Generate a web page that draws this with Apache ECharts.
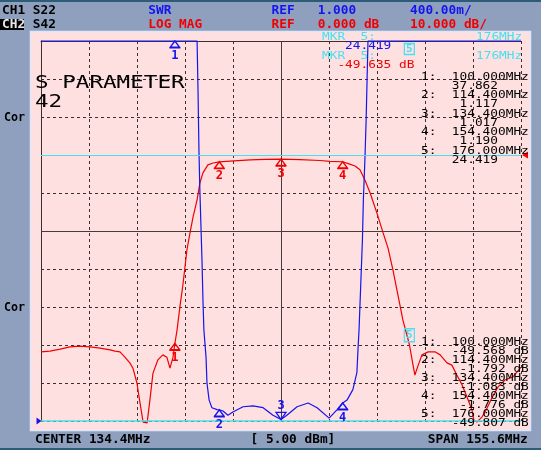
<!DOCTYPE html>
<html><head><meta charset="utf-8">
<script src="https://cdn.jsdelivr.net/npm/echarts@6/dist/echarts.min.js"></script>
<style>html,body{margin:0;padding:0;background:#8fa0bf;}#c{width:541px;height:450px;}</style>
</head><body><div id="c"></div>
<script>
// ---- sweep / scale settings ----
const startMHz = 56.6, stopMHz = 212.2;           // CENTER 134.4 MHz, SPAN 155.6 MHz
const dbMin = -70, dbMax = 30, dbPerDiv = 10;      // CH2 LOG MAG, REF 0 dB, 10 dB/div
const swrMin = 1, swrMax = 5;                      // CH1 SWR, REF 1.000, 400m/div

// ---- CH2 S42 LOG MAG trace (red) ----
const s42Freq = [56.6,59.5,62.8,66.0,69.2,72.5,75.7,79.0,80.6,82.2,83.8,85.4,86.4,87.7,88.7,89.7,91.0,91.9,92.9,94.5,96.1,97.4,98.4,99.4,100.0,100.7,101.7,102.6,103.9,104.9,105.9,107.2,108.1,109.1,110.7,112.4,114.4,117.9,124.4,129.2,134.4,140.5,147.0,150.3,154.4,156.7,158.4,160.0,161.6,163.3,165.5,167.5,169.1,170.7,172.3,173.9,176.0,176.9,177.8,178.8,180.1,182.1,184.3,186.0,188.2,189.8,191.4,193.1,194.7,196.3,196.9,197.9,199.6,201.2,202.8,204.7,207.0,209.6,212.2];
const s42Db   = [-51.8,-51.6,-51.1,-50.5,-50.3,-50.5,-50.8,-51.3,-51.6,-51.8,-53.2,-54.7,-56.1,-60.0,-65.3,-70.3,-70.5,-64.5,-57.4,-53.9,-52.6,-53.2,-56.1,-53.2,-49.6,-46.1,-39.5,-34.2,-25.0,-20.5,-16.3,-11.8,-7.4,-4.7,-2.6,-2.1,-1.8,-1.6,-1.3,-1.15,-1.08,-1.2,-1.45,-1.7,-1.78,-2.4,-2.9,-3.9,-6.6,-10.0,-15.3,-20.5,-24.5,-30.3,-36.8,-43.4,-49.8,-53.9,-57.9,-55.5,-52.6,-51.8,-51.8,-52.6,-54.7,-55.3,-57.9,-60.5,-63.7,-67.1,-69.7,-70.3,-68.9,-66.6,-63.9,-61.1,-59.2,-58.4,-55.8];

// ---- CH1 S22 SWR trace (blue); 5.0 = top of screen (off-scale values sit there) ----
const s22Freq = [56.6,107.2,107.5,107.8,108.1,108.5,108.8,109.1,109.4,110.1,110.4,111.1,112.0,113.7,114.4,115.6,117.2,118.8,122.1,125.3,128.6,131.8,134.4,136.3,139.6,143.2,146.1,150.0,152.6,154.4,155.8,157.7,159.0,159.4,159.7,160.3,160.8,161.1,161.6,162.0,162.3,162.6,212.2];
const s22Swr  = [5.0,5.0,4.48,3.85,3.43,3.00,2.68,2.27,1.96,1.67,1.40,1.22,1.14,1.12,1.117,1.105,1.06,1.095,1.15,1.16,1.14,1.06,1.017,1.06,1.15,1.19,1.14,1.03,1.12,1.19,1.22,1.33,1.51,1.78,1.96,2.48,2.91,3.33,3.75,4.17,4.59,5.0,5.0];

// ---- markers ----
const markerFreq = [100.0, 114.4, 134.4, 154.4, 176.0];
const ch1MarkerVal = [37.862, 1.117, 1.017, 1.190, 24.419];
const ch2MarkerVal = [-49.568, -1.792, -1.083, -1.776, -49.807];
const mkrActiveCh1 = '24.419', mkrActiveCh2 = '-49.635 dB', mkrActiveFreq = '176MHz';

// ---- header / footer texts ----
const hdr1 = ['CH1', 'S22', 'SWR', 'REF', '1.000', '400.00m/'];
const hdr2 = ['CH2', 'S42', 'LOG MAG', 'REF', '0.000 dB', '10.000 dB/'];
const footer = ['CENTER 134.4MHz', '[ 5.00 dBm]', 'SPAN 155.6MHz'];

const C = {bg:'#8fa0bf', pink:'#ffe0e0', grid:'#3a3030', blue:'#1414f0', red:'#f00000', cyan:'#48e0f0'};
const MONO = '"DejaVu Sans Mono", monospace';

function T(x, y, s, color, o) {
  o = o || {};
  const fs = o.fs || 10, pitch = o.pitch || 7.7, al = o.align || 'left';
  return {type:'text', x:x, y:y, z:100, silent:true, scaleX: pitch/(0.602*fs),
    style:{text:s, fill:color, font:(o.bold?'bold ':'')+fs+'px '+MONO,
      align:al, verticalAlign:'middle', textAlign:al, textVerticalAlign:'middle'}};
}

const G = [];
G.push({type:'rect', z:-10, silent:true, shape:{x:0,y:0,width:541,height:2}, style:{fill:'#2c5c78'}});
G.push({type:'rect', z:-10, silent:true, shape:{x:0,y:448,width:541,height:2}, style:{fill:'#2c5c78'}});
G.push({type:'rect', z:-10, silent:true, shape:{x:30.5,y:31.5,width:500,height:399}, style:{fill:C.pink, stroke:'#dfe6fa', lineWidth:1.5}});
// header
const hx = [2, 32.8, 148.3, 271.5, 317.7, 410];
const hc1 = ['#000','#000',C.blue,C.blue,C.blue,C.blue];
const hc2 = ['#e8e8e8','#000',C.red,C.red,C.red,C.red];
G.push({type:'rect', z:50, silent:true, shape:{x:0,y:19,width:24,height:11}, style:{fill:'#000'}});
hdr1.forEach((s,i)=>G.push(T(hx[i], 11, s, hc1[i], {fs:12, bold:true})));
hdr2.forEach((s,i)=>G.push(T(hx[i], 24.5, s, hc2[i], {fs:12, bold:true})));
// footer
const fx = [35, 250.6, 427.7];
footer.forEach((s,i)=>G.push(T(fx[i], 440, s, '#000', {fs:12, bold:true})));
// left labels
G.push(T(4, 118, 'Cor', '#000', {fs:12, bold:true, pitch:7}));
G.push(T(4, 308, 'Cor', '#000', {fs:12, bold:true, pitch:7}));
// title
G.push(T(35, 83, 'S PARAMETER', '#000', {fs:18, pitch:13.6}));
G.push(T(35, 102, '42', '#000', {fs:18, pitch:13.6}));
// active marker block (top right)
const mx0 = 322, P = 7.7;
G.push(T(mx0, 37.5, 'MKR  5:', C.cyan));
G.push(T(mx0+26*P, 37.5, mkrActiveFreq, C.cyan, {align:'right'}));
G.push(T(mx0+3*P, 46.5, mkrActiveCh1, C.blue));
G.push(T(mx0, 56.5, 'MKR  5:', C.cyan));
G.push(T(mx0+26*P, 56.5, mkrActiveFreq, C.cyan, {align:'right'}));
G.push(T(mx0+2*P, 65, mkrActiveCh2, C.red));
// marker lists
const rx0 = 421;
markerFreq.forEach((f,i)=>{
  const y1 = 77 + i*18.5;
  G.push(T(rx0, y1, (i+1)+':', '#000'));
  G.push(T(rx0+14*P, y1, f.toFixed(3)+'MHz', '#000', {align:'right'}));
  G.push(T(rx0+10*P, y1+9.25, ch1MarkerVal[i].toFixed(3), '#000', {align:'right'}));
  const y2 = 342.5 + i*18.1;
  G.push(T(rx0, y2, (i+1)+':', '#000'));
  G.push(T(rx0+14*P, y2, f.toFixed(3)+'MHz', '#000', {align:'right'}));
  G.push(T(rx0+14*P, y2+9, ch2MarkerVal[i].toFixed(3)+' dB', '#000', {align:'right'}));
});

const arrowUp = 'path://M5,0L10,7L0,7Z M-1,8L11,8';
const arrowDown = 'path://M0,0L10,0L5,7Z';
function mk(name, coord, color, opt) {
  opt = opt || {};
  return Object.assign({name:name, coord:coord, symbol:arrowUp, symbolSize:[11,7], symbolOffset:[0,3.5],
    itemStyle:{color:'transparent', borderColor:color, borderWidth:1.3},
    label:{show:true, position:'bottom', distance:1, color:color, fontFamily:MONO, fontWeight:'bold', fontSize:12, formatter:'{b}'}}, opt);
}
const redMarks = [];
for (let i=0;i<4;i++) redMarks.push(mk(String(i+1), [markerFreq[i], ch2MarkerVal[i]], C.red));
redMarks.push({name:'5', coord:[markerFreq[4], ch2MarkerVal[4]], symbol:'rect', symbolSize:[10,13], symbolOffset:[0,-9],
  itemStyle:{color:'transparent', borderColor:C.cyan, borderWidth:1.3},
  label:{show:true, position:'inside', color:C.cyan, fontFamily:MONO, fontWeight:'bold', fontSize:11, formatter:'{b}'}});
redMarks.push({name:'', coord:[stopMHz, 0], symbol:'path://M0,4L7,0L7,8Z', symbolSize:[6,7], symbolOffset:[4,0],
  itemStyle:{color:C.red}, label:{show:false}});
const blueMarks = [];
for (let i=0;i<4;i++) {
  const v = Math.min(ch1MarkerVal[i], swrMax);
  if (i===2) blueMarks.push(mk('3', [markerFreq[i], v], C.blue, {symbol:arrowDown, symbolSize:[10,7], symbolOffset:[0,-3.5],
     label:{show:true, position:'top', distance:0, color:C.blue, fontFamily:MONO, fontWeight:'bold', fontSize:12, formatter:'{b}'}}));
  else blueMarks.push(mk(String(i+1), [markerFreq[i], v], C.blue));
}
blueMarks.push({name:'5', coord:[markerFreq[4], Math.min(ch1MarkerVal[4], swrMax)], symbol:'rect', symbolSize:[10,11], symbolOffset:[0,8],
  itemStyle:{color:'transparent', borderColor:C.cyan, borderWidth:1.3},
  label:{show:true, position:'inside', color:C.cyan, fontFamily:MONO, fontWeight:'bold', fontSize:11, formatter:'{b}'}});
blueMarks.push({name:'', coord:[startMHz, swrMin], symbol:'path://M0,0L7,4L0,8Z', symbolSize:[5,7], symbolOffset:[-2,0],
  itemStyle:{color:C.blue}, label:{show:false}});

const chart = echarts.init(document.getElementById('c'));
const hidden = {show:false};
chart.setOption({
  animation:false,
  backgroundColor:C.bg,
  grid:{left:41, top:41, width:480, height:380, containLabel:false},
  xAxis:[
    {type:'value', min:startMHz, max:stopMHz, show:false, splitLine:hidden},
    {type:'value', min:0, max:10, interval:1, position:'top', axisLabel:hidden, axisTick:hidden,
     axisLine:{show:true, onZero:false, lineStyle:{color:C.grid, width:1}},
     splitLine:{show:true, lineStyle:{color:C.grid, type:[3,3], width:1}}}
  ],
  yAxis:[
    {type:'value', min:dbMin, max:dbMax, interval:dbPerDiv, position:'left', axisLabel:hidden, axisTick:hidden,
     axisLine:{show:true, onZero:false, lineStyle:{color:C.grid, width:1}},
     splitLine:{show:true, lineStyle:{color:C.grid, type:[3,3], width:1}}},
    {type:'value', min:swrMin, max:swrMax, show:false, splitLine:hidden}
  ],
  graphic:{elements:G},
  series:[
    {type:'line', xAxisIndex:0, yAxisIndex:0, data:[], z:1, silent:true,
     markLine:{silent:true, symbol:['none','none'], label:{show:false}, animation:false,
       data:[
         {xAxis:(startMHz+stopMHz)/2, lineStyle:{color:'#4a3a3a', type:'solid', width:1}},
         {yAxis:(dbMin+dbMax)/2, lineStyle:{color:'#4a3a3a', type:'solid', width:1}},
         {yAxis:0, lineStyle:{color:C.cyan, type:'solid', width:1.2}}
       ]}},
    {type:'line', xAxisIndex:0, yAxisIndex:1, data:[], z:1, silent:true,
     markLine:{silent:true, symbol:['none','none'], label:{show:false}, animation:false,
       data:[{yAxis:swrMin, lineStyle:{color:C.cyan, type:'solid', width:1.5}}]}},
    {type:'line', name:'S42', xAxisIndex:0, yAxisIndex:0, z:3, clip:false, showSymbol:false, symbol:'none',
     data:s42Freq.map((f,i)=>[f, s42Db[i]]), lineStyle:{color:C.red, width:1.2},
     markPoint:{silent:true, animation:false, data:redMarks}},
    {type:'line', name:'S22', xAxisIndex:0, yAxisIndex:1, z:4, clip:false, showSymbol:false, symbol:'none',
     data:s22Freq.map((f,i)=>[f, s22Swr[i]]), lineStyle:{color:C.blue, width:1.2},
     markPoint:{silent:true, animation:false, data:blueMarks}}
  ]
});
</script></body></html>
